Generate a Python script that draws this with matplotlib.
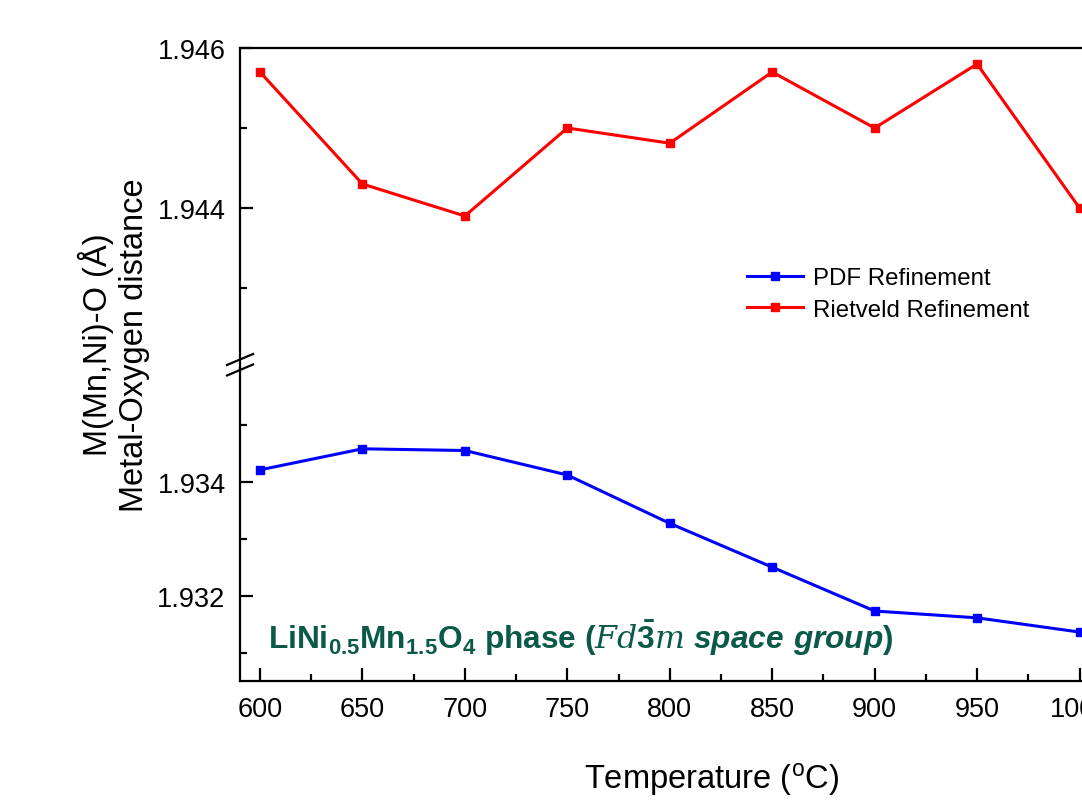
import matplotlib
matplotlib.use("Agg")
import matplotlib.pyplot as plt
from matplotlib.lines import Line2D
from matplotlib.ticker import FixedLocator

plt.rcParams['font.family'] = ['Liberation Sans', 'DejaVu Sans']
plt.rcParams['mathtext.fontset'] = 'custom'
plt.rcParams['mathtext.rm'] = 'Liberation Sans:bold'
plt.rcParams['mathtext.bf'] = 'Liberation Sans:bold'
plt.rcParams['mathtext.it'] = 'DejaVu Serif:italic'
plt.rcParams['mathtext.sf'] = 'Liberation Sans:bold:italic'
plt.rcParams['mathtext.tt'] = 'Liberation Sans'

# ---- data ----
temperature = [600, 650, 700, 750, 800, 850, 900, 950, 1000]
pdf_refinement = [1.93421, 1.93458, 1.93455, 1.93412, 1.93327, 1.93250, 1.93173, 1.93161, 1.93136]
rietveld_refinement = [1.94570, 1.94430, 1.94390, 1.94500, 1.94481, 1.94570, 1.94500, 1.94580, 1.94400]
x_ticks = [600, 650, 700, 750, 800, 850, 900, 950, 1000]
top_ticks = [1.944, 1.946]
bottom_ticks = [1.932, 1.934]

W, H = 1082, 804
fig = plt.figure(figsize=(W / 100, H / 100), dpi=100)
fig.patch.set_facecolor('white')

left = 239.5 / W
width = (1100 - 239.5) / W
y_top, y_break, y_bot = 49, 369, 682
ax_top = fig.add_axes([left, 1 - y_break / H, width, (y_break - y_top) / H])
ax_bot = fig.add_axes([left, 1 - y_bot / H, width, (y_bot - y_break) / H])

blue = '#0000ff'
red = '#ff0000'
l1, = ax_bot.plot(temperature, pdf_refinement, color=blue, lw=2.2, marker='s', ms=6)
l2, = ax_top.plot(temperature, rietveld_refinement, color=red, lw=2.2, marker='s', ms=6)

for ax in (ax_top, ax_bot):
    ax.set_xlim(590, 1010)
    ax.spines['right'].set_visible(False)
    for s in ax.spines.values():
        s.set_linewidth(1.6)
    ax.tick_params(which='both', direction='in', top=False, right=False, width=1.6)
    ax.tick_params(which='major', length=9.5, labelsize=19.5, pad=10)
    ax.tick_params(which='minor', length=5)
    ax.xaxis.set_minor_locator(FixedLocator([625, 675, 725, 775, 825, 875, 925, 975]))

ax_top.spines['bottom'].set_visible(False)
ax_top.tick_params(axis='x', which='both', bottom=False, labelbottom=False)
ax_top.set_ylim(1.942, 1.946)
ax_top.set_yticks(top_ticks)
ax_top.set_yticklabels(['%.3f' % v for v in top_ticks])
ax_top.yaxis.set_minor_locator(FixedLocator([1.943, 1.945]))

ax_bot.spines['top'].set_visible(False)
ax_bot.set_ylim(1.9305, 1.936)
ax_bot.set_yticks(bottom_ticks)
ax_bot.set_yticklabels(['%.3f' % v for v in bottom_ticks])
ax_bot.yaxis.set_minor_locator(FixedLocator([1.931, 1.933, 1.935]))
ax_bot.set_xticks(x_ticks)
ax_bot.set_xticklabels([str(v) for v in x_ticks])
ax_bot.tick_params(axis='x', which='major', pad=11)

# break marks on left spine
def px(x, y):
    return (x / W, 1 - y / H)
for dy in (0, 10.5):
    (xa, ya), (xb, yb) = px(227, 366 + dy), px(253, 355 + dy)
    fig.add_artist(Line2D([xa, xb], [ya, yb], color='black', lw=1.6))

# legend
ax_top.legend([l1, l2], ['PDF Refinement', 'Rietveld Refinement'],
              loc='upper left', bbox_to_anchor=(735 / W, 1 - 256 / H),
              bbox_transform=fig.transFigure, frameon=False, fontsize=17.3,
              borderpad=0, handlelength=2.35, handletextpad=0.4,
              labelspacing=0.4, numpoints=1)

# axis labels
fig.text(712 / W, 1 - 780 / H, 'Temperature ($^{\\mathtt{o}}$C)', fontsize=23.5,
         ha='center', va='center')
fig.text(114 / W, 1 - 345 / H, 'M(Mn,Ni)-O (Å)\nMetal-Oxygen distance', fontsize=23.5,
         rotation=90, ha='center', va='center', multialignment='center', linespacing=1.22)

# annotation
fig.text(268 / W, 1 - 649 / H,
         r'LiNi$_{0.5}$Mn$_{1.5}$O$_{4}$ phase ($\mathit{Fd\bar{3}m}$ $\mathsf{space\ group}$)',
         fontsize=22.8, fontweight='bold', color='#0b5a48', ha='left', va='baseline')

fig.savefig('out.png', dpi=100)
